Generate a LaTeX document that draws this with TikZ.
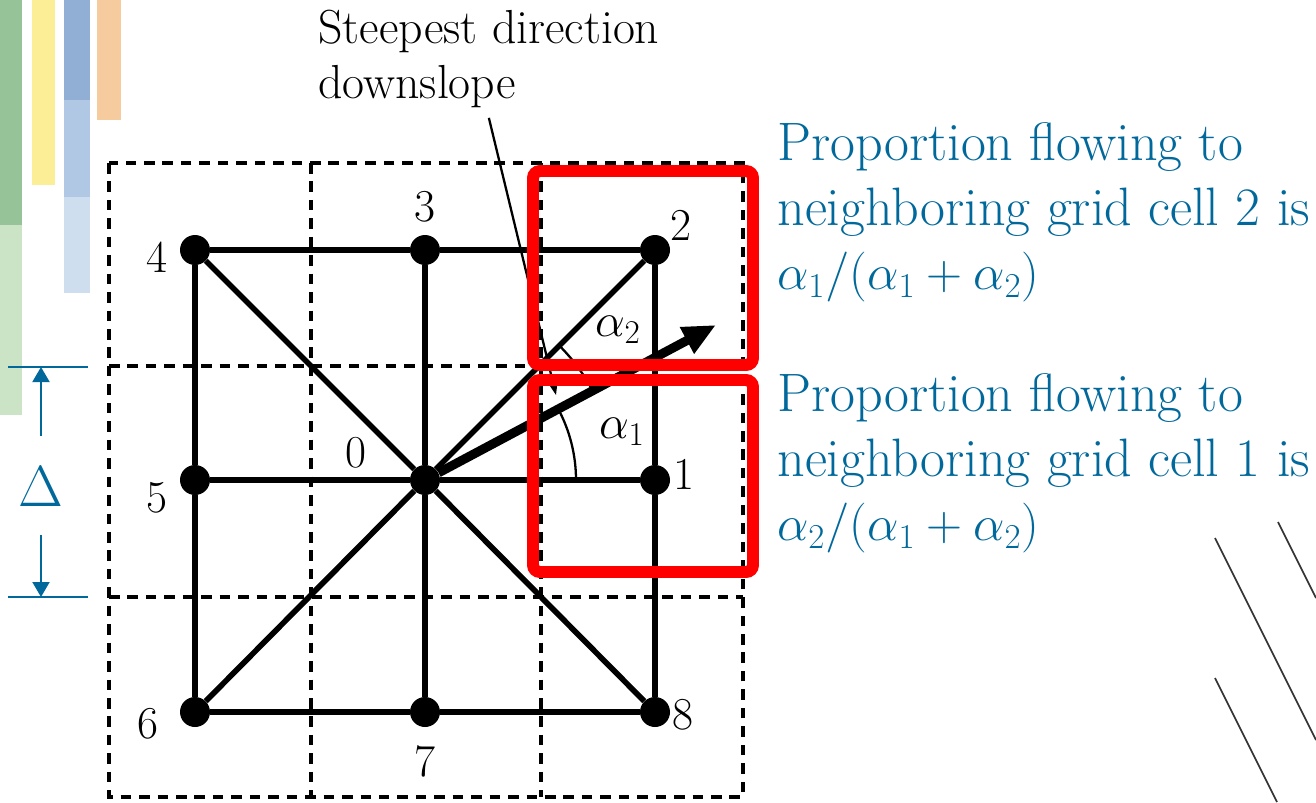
\RequirePackage{fix-cm}
\documentclass[tikz,border=0pt]{standalone}
\usepackage{xcolor}
\usepackage{tikz}
\usetikzlibrary{arrows.meta,positioning}

\definecolor{slideblue}{RGB}{0,104,155}
\definecolor{bargreen}{RGB}{150,196,152}
\definecolor{bargreenlt}{RGB}{204,228,198}
\definecolor{baryellow}{RGB}{252,238,150}
\definecolor{barblue}{RGB}{145,174,212}
\definecolor{barbluemd}{RGB}{176,200,228}
\definecolor{barbluelt}{RGB}{206,222,238}
\definecolor{barorange}{RGB}{246,204,158}

\newcommand{\shareform}[1]{{\fontsize{28.4}{36.8}\selectfont$#1$}}

\begin{document}
\begin{tikzpicture}[
    x=0.02cm, y=-0.02cm,
    dot/.style={circle, fill=black, inner sep=0pt, minimum size=0.6cm},
    num/.style={inner sep=0pt, font=\fontsize{26}{30}\selectfont},
    angnum/.style={inner sep=0pt, font=\fontsize{27}{30}\selectfont},
    link/.style={line width=3.2pt},
    cellline/.style={line width=2.1pt, dash pattern=on 6pt off 4.5pt},
    cellbox/.style={red, line width=6.8pt, rounded corners=4pt},
    flow/.style={line width=5.2pt, -{Triangle[length=0.66cm, width=0.56cm]}},
    pointer/.style={line width=1.3pt, -{Stealth[length=0.3cm, width=0.22cm]}},
    anglearc/.style={line width=1.3pt},
    note/.style={inner sep=0pt, align=left, text=slideblue, font=\fontsize{30.8}{36.8}\selectfont},
    dimline/.style={slideblue, line width=1.1pt},
    dimarrow/.style={slideblue, line width=1.1pt, -{Triangle[length=0.3cm, width=0.34cm]}}
  ]
  \useasboundingbox (0,0) rectangle (1316,802);

  % slide background
  \fill[bargreen] (0,0) rectangle (22,225);
  \fill[bargreenlt] (0,225) rectangle (22,415);
  \fill[baryellow] (32,0) rectangle (55,185);
  \fill[barblue] (64,0) rectangle (90,100);
  \fill[barbluemd] (64,100) rectangle (90,197);
  \fill[barbluelt] (64,197) rectangle (90,293);
  \fill[barorange] (97,0) rectangle (121,120);
  \draw[black!80, line width=1pt] (1215,538) -- (1316,740);
  \draw[black!80, line width=1pt] (1278,522) -- (1316,598);
  \draw[black!80, line width=1pt] (1215,678) -- (1277,802);

  % grid cells
  \draw[cellline] (109,163) rectangle (743,797);
  \draw[cellline] (311,163) -- (311,797);
  \draw[cellline] (541,163) -- (541,797);
  \draw[cellline] (109,366) -- (743,366);
  \draw[cellline] (109,597) -- (743,597);

  % neighbours
  \node[dot] (p0) at (425,480) {};
  \node[dot] (p1) at (655,480) {};
  \node[dot] (p2) at (655,250) {};
  \node[dot] (p3) at (425,250) {};
  \node[dot] (p4) at (195,250) {};
  \node[dot] (p5) at (195,480) {};
  \node[dot] (p6) at (195,712) {};
  \node[dot] (p7) at (425,712) {};
  \node[dot] (p8) at (655,712) {};

  \draw[link] (p4) -- (p3);
  \draw[link] (p3) -- (p2);
  \draw[link] (p2) -- (p1);
  \draw[link] (p1) -- (p8);
  \draw[link] (p8) -- (p7);
  \draw[link] (p7) -- (p6);
  \draw[link] (p6) -- (p5);
  \draw[link] (p5) -- (p4);
  \draw[link] (p0) -- (p1);
  \draw[link] (p0) -- (p2);
  \draw[link] (p0) -- (p3);
  \draw[link] (p0) -- (p4);
  \draw[link] (p0) -- (p5);
  \draw[link] (p0) -- (p6);
  \draw[link] (p0) -- (p7);
  \draw[link] (p0) -- (p8);

  \node[num] (l0) at (356,453) {0};
  \node[num, right=0.06cm of p1, yshift=0.12cm] (l1) {1};
  \node[num] (l2) at (681,225) {2};
  \node[num, above=0.24cm of p3] (l3) {3};
  \node[num] (l4) at (157,257) {4};
  \node[num] (l5) at (157,498) {5};
  \node[num] (l6) at (148,724) {6};
  \node[num, below=0.36cm of p7] (l7) {7};
  \node[num, right=0.04cm of p8, yshift=-0.06cm] (l8) {8};

  % steepest direction
  \node[inner sep=0pt, anchor=north west, align=left, font=\fontsize{27.2}{31}\selectfont] (steep) at (318,10) {Steepest direction\\downslope};
  \coordinate (ptrhead) at (556,395);
  \draw[pointer] ([yshift=-0.2cm]steep.south) -- (ptrhead);

  \coordinate (flowtip) at (716,325);
  \draw[flow] (p0) -- (flowtip);

  \draw[anglearc] (p0.center) ++(-28.3:151) arc[start angle=-28.3, end angle=0, radius=151];
  \draw[anglearc] (p0.center) ++(-45:190) arc[start angle=-45, end angle=-28.3, radius=190];
  \node[angnum] (a2) at (618,330) {$\alpha_2$};
  \node[angnum] (a1) at (622,432) {$\alpha_1$};

  % receiving cells
  \draw[cellbox] (533,171) rectangle (753,365);
  \draw[cellbox] (533,380) rectangle (753,572);

  \node[note, anchor=north west] (share2) at (777,122) {Proportion flowing to\\neighboring grid cell 2 is\\\shareform{\alpha_1/(\alpha_1 + \alpha_2)}};
  \node[note, anchor=north west] (share1) at (777,373) {Proportion flowing to\\neighboring grid cell 1 is\\\shareform{\alpha_2/(\alpha_1 + \alpha_2)}};

  % cell size
  \coordinate (dimA1) at (8,367);
  \coordinate (dimA2) at (88,367);
  \coordinate (dimB1) at (8,597);
  \coordinate (dimB2) at (88,597);
  \node[inner sep=0pt, text=slideblue, font=\fontsize{33}{40}\selectfont] (delta) at (41,487) {$\Delta$};
  \draw[dimline] (dimA1) -- (dimA2);
  \draw[dimline] (dimB1) -- (dimB2);
  \draw[dimarrow] ([yshift=0.62cm]delta.north) -- (delta.north |- dimA1);
  \draw[dimarrow] ([yshift=-0.56cm]delta.south) -- (delta.south |- dimB1);
\end{tikzpicture}
\end{document}
